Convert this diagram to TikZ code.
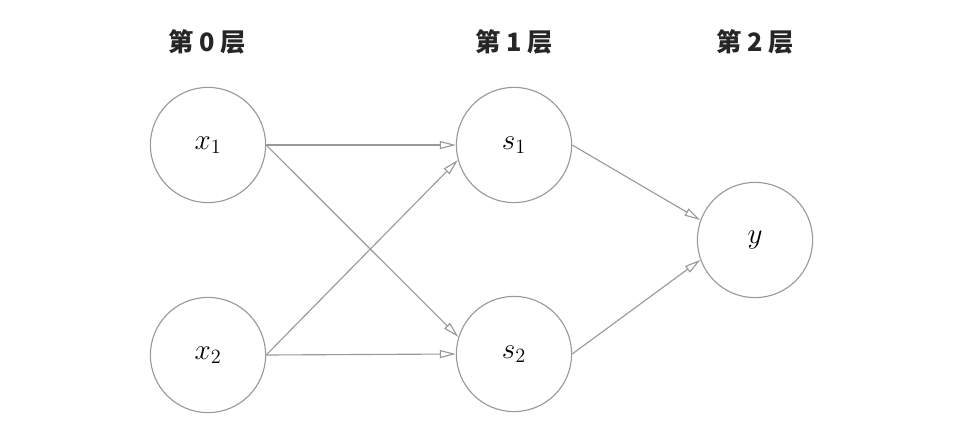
\documentclass[tikz,border=0pt]{standalone}
\usepackage{fontspec}
\newfontfamily\cjk{Noto Sans CJK SC}
\usetikzlibrary{arrows.meta}
\tikzset{
	neuron/.style={circle, draw=gray!80, line width=0.8pt, minimum size=2.88cm, inner sep=0pt, font=\fontsize{20}{24}\selectfont},
	layer/.style={font=\cjk\bfseries\fontsize{18}{22}\selectfont, text=black!85},
	link/.style={draw=gray!80, line width=0.8pt, -{Triangle[open, length=0.4cm, width=0.2cm]}}
}
\begin{document}
\begin{tikzpicture}[x=0.025cm, y=-0.025cm]
		\useasboundingbox (0,0) rectangle (980,434);
		\node[layer] (l0) at (207,42) {第 0 层};
		\node[layer] (l1) at (514,42) {第 1 层};
		\node[layer] (l2) at (755,42) {第 2 层};

		\node[neuron] (x1) at (208,145) {$x_1$};
		\node[neuron] (x2) at (208,355) {$x_2$};
		\node[neuron] (s1) at (514,145) {$s_1$};
		\node[neuron] (s2) at (514,354) {$s_2$};
		\node[neuron] (y) at (755,240) {$y$};

		\foreach \a/\b in {x1.east/s1.west, x1.east/s2.163, x2.east/s1.195, x2.east/s2.west, s1.east/y.160, s2.east/y.200}{
			\draw[link] (\a) -- (\b);
		}
	\end{tikzpicture}
\end{document}
